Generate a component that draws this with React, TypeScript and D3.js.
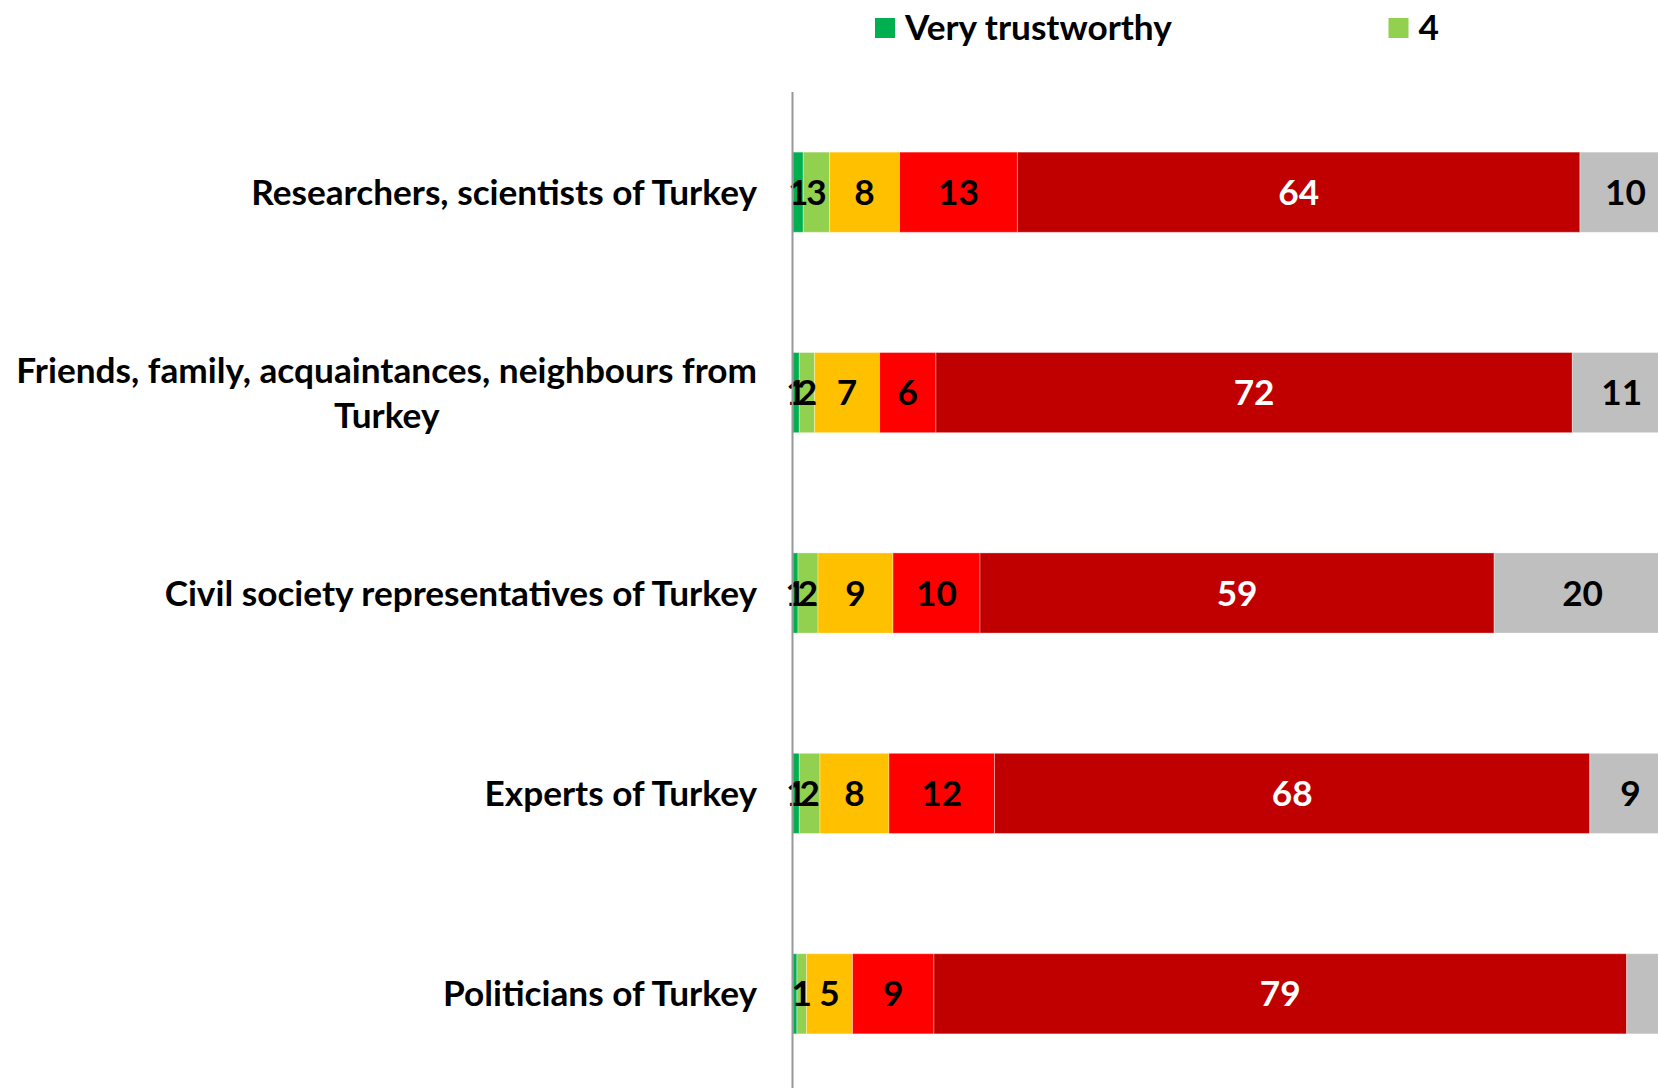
import React, { useEffect, useRef } from "react";
import * as d3 from "d3";

const categories = [
  "Researchers, scientists of Turkey",
  "Friends, family, acquaintances, neighbours from Turkey",
  "Civil society representatives of Turkey",
  "Experts of Turkey",
  "Politicians of Turkey",
];

const seriesNames = ["Very trustworthy", "4", "3", "2", "Not at all trustworthy", "Don't know"];
const seriesColors = ["#00B050", "#92D050", "#FFC000", "#FF0000", "#C00000", "#BFBFBF"];
const labelColors = ["#000", "#000", "#000", "#000", "#fff", "#000"];

// values per series, one per category (percent)
const veryTrustworthy = [1.17, 0.72, 0.57, 0.72, 0.45];
const four = [2.99, 1.74, 2.28, 2.35, 1.09];
const three = [7.97, 7.4, 8.54, 7.86, 5.24];
const two = [13.43, 6.42, 9.91, 12.02, 9.27];
const notAtAll = [64.07, 72.48, 58.56, 67.8, 78.9];
const dontKnow = [10.37, 11.24, 20.14, 9.25, 5.05];

// labels not displayed in the reference: [categoryIndex, seriesIndex]
const hiddenLabels = [[4, 5]];

const W = 1658;
const H = 1088;
const FONT = "Lato, 'Open Sans', sans-serif";

export default function App() {
  const ref = useRef<SVGSVGElement>(null);

  useEffect(() => {
    const svg = d3.select(ref.current);
    svg.selectAll("*").remove();

    const seriesValues = [veryTrustworthy, four, three, two, notAtAll, dontKnow];
    const rows = categories.map((c, i) => {
      const r: any = { category: c };
      seriesNames.forEach((s, j) => (r[s] = seriesValues[j][i]));
      return r;
    });
    const stack = d3.stack().keys(seriesNames)(rows);

    // fit font size to reference label width
    const probe = svg
      .append("text")
      .attr("font-family", FONT)
      .attr("font-weight", 700)
      .attr("font-size", 100)
      .text(categories[0]);
    const pw = (probe.node() as SVGTextElement).getComputedTextLength();
    probe.remove();
    const fs = (506 / pw) * 100;

    const x = d3.scaleLinear().domain([0, 100]).range([793, 1671]);
    const y = d3
      .scaleBand()
      .domain(categories)
      .range([92, 1094])
      .paddingInner(0.6)
      .paddingOuter(0.3);

    const g = svg.append("g");

    stack.forEach((layer, j) => {
      layer.forEach((d, i) => {
        const x0 = x(d[0]);
        const x1 = x(d[1]);
        const yy = y(categories[i])!;
        g.append("rect")
          .attr("x", x0)
          .attr("y", yy)
          .attr("width", Math.max(0, x1 - x0))
          .attr("height", y.bandwidth())
          .attr("fill", seriesColors[j])
          .attr("stroke", "#ffffff")
          .attr("stroke-opacity", 0.35)
          .attr("stroke-width", 1);
      });
    });

    stack.forEach((layer, j) => {
      layer.forEach((d, i) => {
        const v = seriesValues[j][i];
        const lbl = Math.round(v);
        if (lbl === 0) return;
        if (hiddenLabels.some(([a, b]) => a === i && b === j)) return;
        const cx = (x(d[0]) + x(d[1])) / 2;
        const cy = y(categories[i])! + y.bandwidth() / 2;
        g.append("text")
          .attr("x", cx)
          .attr("y", cy)
          .attr("dy", "0.36em")
          .attr("text-anchor", "middle")
          .attr("font-family", FONT)
          .attr("font-weight", 700)
          .attr("font-size", fs)
          .attr("fill", labelColors[j])
          .text(String(lbl));
      });
    });

    // axis line
    svg
      .append("line")
      .attr("x1", x(0) - 0.5)
      .attr("x2", x(0) - 0.5)
      .attr("y1", 92)
      .attr("y2", H)
      .attr("stroke", "#989898")
      .attr("stroke-width", 2);

    // category labels
    const labelRight = 757;
    const maxW = 760;
    categories.forEach((c) => {
      const cy = y(c)! + y.bandwidth() / 2;
      const words = c.split(" ");
      const lines: string[] = [];
      let cur = "";
      const t = svg
        .append("text")
        .attr("font-family", FONT)
        .attr("font-weight", 700)
        .attr("font-size", fs);
      words.forEach((w) => {
        const test = cur ? cur + " " + w : w;
        t.text(test);
        if ((t.node() as SVGTextElement).getComputedTextLength() > maxW && cur) {
          lines.push(cur);
          cur = w;
        } else cur = test;
      });
      lines.push(cur);
      t.text(lines[0]);
      const w0 = (t.node() as SVGTextElement).getComputedTextLength();
      t.remove();
      const lh = 44.5;
      const startY = cy - ((lines.length - 1) * lh) / 2;
      lines.forEach((ln, k) => {
        svg
          .append("text")
          .attr("x", lines.length > 1 ? labelRight - w0 / 2 : labelRight)
          .attr("y", startY + k * lh)
          .attr("dy", "0.36em")
          .attr("text-anchor", lines.length > 1 ? "middle" : "end")
          .attr("font-family", FONT)
          .attr("font-weight", 700)
          .attr("font-size", fs)
          .attr("fill", "#000")
          .text(ln);
      });
    });

    // legend
    const legendStart = 875;
    const legendStep = 513.5;
    seriesNames.forEach((s, j) => {
      const lx = legendStart + j * legendStep;
      if (lx > W) return;
      svg
        .append("rect")
        .attr("x", lx)
        .attr("y", 18)
        .attr("width", 20)
        .attr("height", 20)
        .attr("fill", seriesColors[j]);
      svg
        .append("text")
        .attr("x", lx + 30)
        .attr("y", 27)
        .attr("dy", "0.36em")
        .attr("font-family", FONT)
        .attr("font-weight", 700)
        .attr("font-size", fs)
        .attr("fill", "#000")
        .text(s);
    });
  }, []);

  return (
    <svg
      ref={ref}
      width={W}
      height={H}
      style={{ position: "absolute", left: 0, top: 0, display: "block", background: "#fff" }}
    />
  );
}
